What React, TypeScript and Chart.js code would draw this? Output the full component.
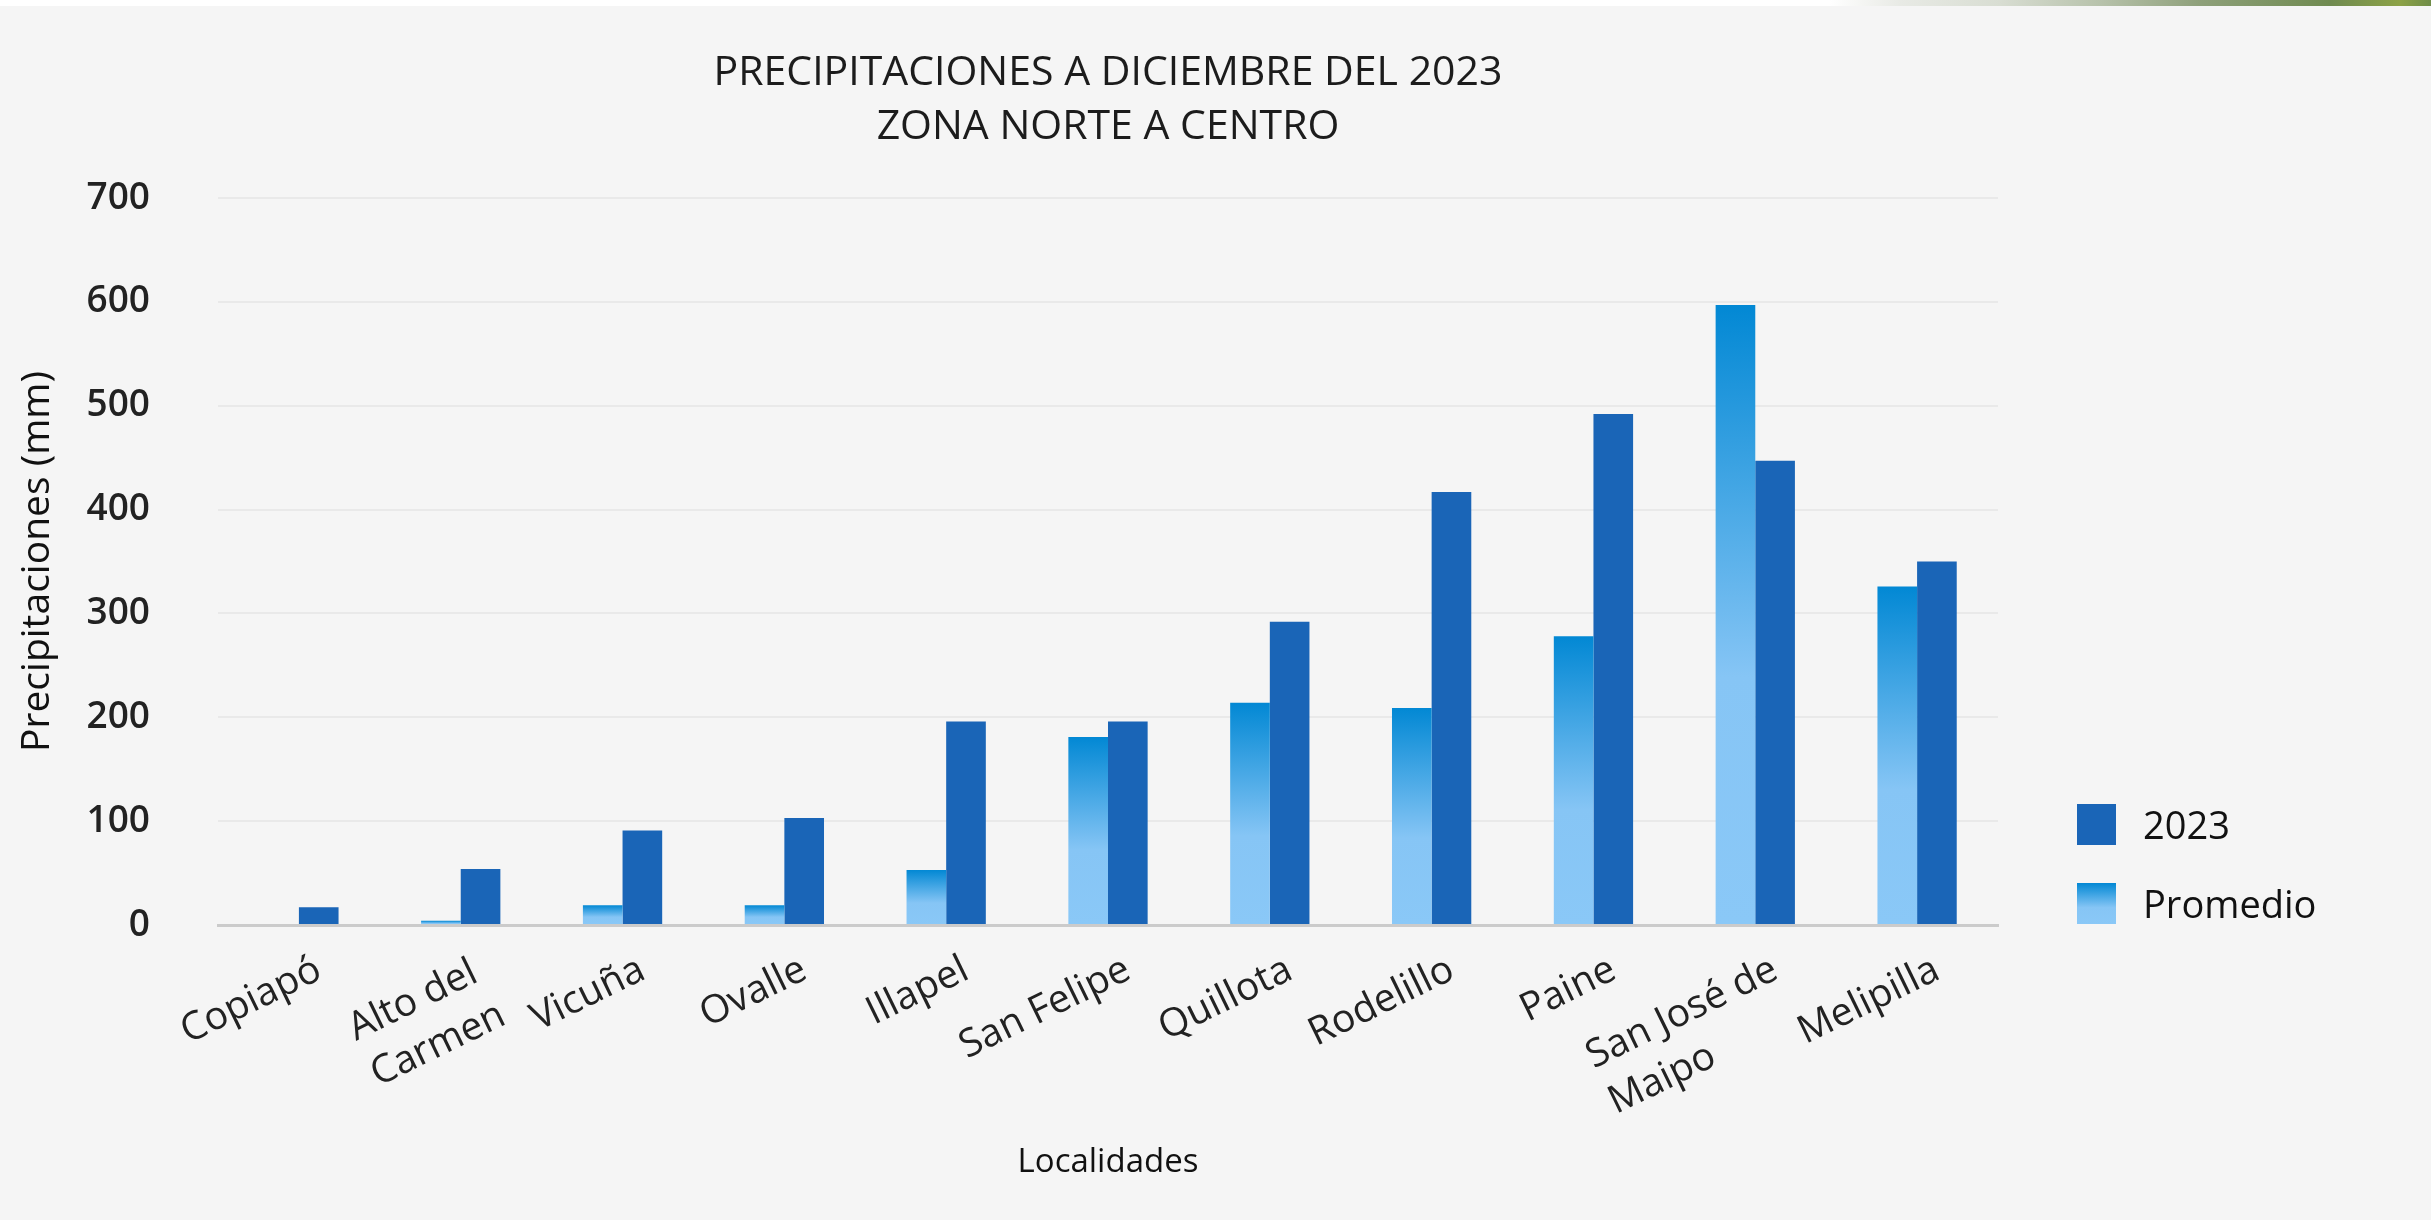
import React, { useEffect, useRef } from 'react';
import { Chart, registerables } from 'chart.js';

Chart.register(...registerables);

// ---------- data ----------
const TITLE_LINES = ['PRECIPITACIONES A DICIEMBRE DEL 2023', 'ZONA NORTE A CENTRO'];
const CATEGORIES: (string | string[])[] = [
  'Copiapó',
  ['Alto del', 'Carmen'],
  'Vicuña',
  'Ovalle',
  'Illapel',
  'San Felipe',
  'Quillota',
  'Rodelillo',
  'Paine',
  ['San José de', 'Maipo'],
  'Melipilla',
];
const SERIES_PROMEDIO = 'Promedio';
const SERIES_2023 = '2023';
const PROMEDIO = [0, 4, 19, 19, 53, 181, 214, 209, 278, 597, 326];
const Y2023 = [17, 54, 91, 103, 196, 196, 292, 417, 492, 447, 350];
const Y_MIN = 0;
const Y_MAX = 700;
const Y_STEP = 100;
const Y_TITLE = 'Precipitaciones (mm)';
const X_TITLE = 'Localidades';

// ---------- style ----------
const FONT = "'Open Sans', 'Noto Sans', sans-serif";
const W = 2431;
const H = 1220;
const DARK_BLUE = '#1a65b7';
const GRAD_TOP = '#0288d4';
const GRAD_MID = '#86c5f5';
const GRAD_BOT = '#8ac8f7';

function makeGradient(ctx: CanvasRenderingContext2D, top: number, bottom: number) {
  const g = ctx.createLinearGradient(0, top, 0, bottom);
  g.addColorStop(0, GRAD_TOP);
  g.addColorStop(0.6, GRAD_MID);
  g.addColorStop(1, GRAD_BOT);
  return g;
}

const promedioFill = (c: any) => {
  const chart = c.chart;
  const ys = chart.scales && chart.scales.y;
  if (c.type !== 'data' || !ys || !c.parsed) return GRAD_MID;
  const top = ys.getPixelForValue(c.parsed.y);
  const base = ys.getPixelForValue(0);
  if (!isFinite(top) || !isFinite(base) || base - top < 1) return GRAD_MID;
  return makeGradient(chart.ctx, top, base);
};

// Multi-line rotated x labels: keep the block anchored at the tick, but left-align its lines
const leftAlignMultiline = {
  id: 'leftAlignMultiline',
  beforeDraw(chart: any) {
    const scale = chart.scales.x;
    if (!scale || !chart.chartArea) return;
    const items = scale.getLabelItems(chart.chartArea);
    const ctx = chart.ctx;
    items.forEach((item: any) => {
      if (!Array.isArray(item.label) || item._leftAligned) return;
      ctx.save();
      ctx.font = item.font.string;
      const maxW = Math.max(...item.label.map((l: string) => ctx.measureText(l).width));
      ctx.restore();
      const r = item.options.rotation || 0;
      const [tx, ty] = item.options.translation;
      item.options.translation = [tx - maxW * Math.cos(r), ty - maxW * Math.sin(r)];
      item.options.textAlign = 'left';
      item._leftAligned = true;
    });
  },
};

// Legend drawn at the right, bottom-aligned with the plot area
const sideLegend = {
  id: 'sideLegend',
  afterDraw(chart: any) {
    const { ctx, chartArea: a } = chart;
    if (!a) return;
    const ds = chart.data.datasets.slice().reverse();
    const n = ds.length;
    const boxW = 39;
    const boxH = 41;
    const step = 79;
    const x = a.right + 79;
    ctx.save();
    ds.forEach((d: any, i: number) => {
      const top = a.bottom - boxH - 1 - (n - 1 - i) * step;
      ctx.fillStyle =
        typeof d.backgroundColor === 'function' ? makeGradient(ctx, top, top + boxH) : d.backgroundColor;
      ctx.fillRect(x, top, boxW, boxH);
      ctx.fillStyle = '#111111';
      ctx.font = `400 38px ${FONT}`;
      ctx.textAlign = 'left';
      ctx.textBaseline = 'middle';
      ctx.fillText(d.label, x + boxW + 27, top + boxH / 2 + 4);
    });
    ctx.restore();
  },
};

export default function App() {
  const ref = useRef<HTMLCanvasElement | null>(null);

  useEffect(() => {
    const canvas = ref.current;
    if (!canvas) return;

    const chart = new Chart(canvas, {
      type: 'bar',
      data: {
        labels: CATEGORIES as any,
        datasets: [
          {
            label: SERIES_PROMEDIO,
            data: PROMEDIO,
            backgroundColor: promedioFill as any,
            borderWidth: 0,
            categoryPercentage: 0.49,
            barPercentage: 1,
          },
          {
            label: SERIES_2023,
            data: Y2023,
            backgroundColor: DARK_BLUE,
            borderWidth: 0,
            categoryPercentage: 0.49,
            barPercentage: 1,
          },
        ],
      },
      options: {
        responsive: false,
        maintainAspectRatio: false,
        animation: false,
        devicePixelRatio: 1,
        layout: { padding: { left: 0, right: 0, top: 0, bottom: 0 } },
        plugins: {
          title: {
            display: true,
            text: TITLE_LINES,
            fullSize: false,
            color: '#1c1c1c',
            font: { family: FONT, size: 41, weight: '400' as any, lineHeight: 1.305 },
            padding: { top: 47, bottom: 44 },
          },
          legend: { display: false },
          tooltip: { enabled: false },
        },
        scales: {
          x: {
            grid: { display: false, drawTicks: false },
            border: { display: true, color: '#cbcbcb', width: 3 },
            ticks: {
              autoSkip: false,
              minRotation: 26,
              maxRotation: 26,
              padding: 20,
              labelOffset: 20,
              color: '#222222',
              font: { family: FONT, size: 39, lineHeight: 1.3 },
            },
            title: {
              display: true,
              text: X_TITLE,
              color: '#111111',
              font: { family: FONT, size: 33 },
              padding: { top: 0, bottom: 38 },
            },
            afterFit: (s: any) => {
              s.height = 295;
            },
          },
          y: {
            min: Y_MIN,
            max: Y_MAX,
            ticks: {
              stepSize: Y_STEP,
              padding: 68,
              color: '#222222',
              font: { family: FONT, size: 37, weight: '600' as any },
            },
            grid: { color: '#e9e9e9', lineWidth: 2, drawTicks: false },
            border: { display: false },
            title: {
              display: true,
              text: Y_TITLE,
              color: '#111111',
              font: { family: FONT, size: 39 },
              padding: { top: 14, bottom: 0 },
            },
            afterFit: (s: any) => {
              s.width = 218;
            },
          },
          yR: {
            type: 'linear',
            position: 'right',
            display: true,
            grid: { display: false, drawTicks: false },
            border: { display: false },
            ticks: { display: false },
            afterFit: (s: any) => {
              s.width = 433;
            },
          } as any,
        },
      } as any,
      plugins: [leftAlignMultiline as any, sideLegend as any],
    });
    return () => chart.destroy();
  }, []);

  return (
    <div
      style={{
        position: 'fixed',
        left: 0,
        top: 0,
        width: W,
        height: H,
        background: '#f5f5f5',
        overflow: 'hidden',
      }}
    >
      <canvas
        ref={ref}
        width={W}
        height={H}
        style={{ position: 'absolute', left: 0, top: 0, width: W, height: H }}
      />
      <div
        style={{
          position: 'absolute',
          left: 0,
          top: 0,
          width: W,
          height: 6,
          background:
            'linear-gradient(to right, #ffffff 0px, #ffffff 1830px, #e8eae5 1900px, #d8ddd2 2000px, #b7c2ab 2100px, #8ea07a 2200px, #6f8a50 2330px, #8ca246 2400px, #6f8c48 2431px)',
        }}
      />
    </div>
  );
}
